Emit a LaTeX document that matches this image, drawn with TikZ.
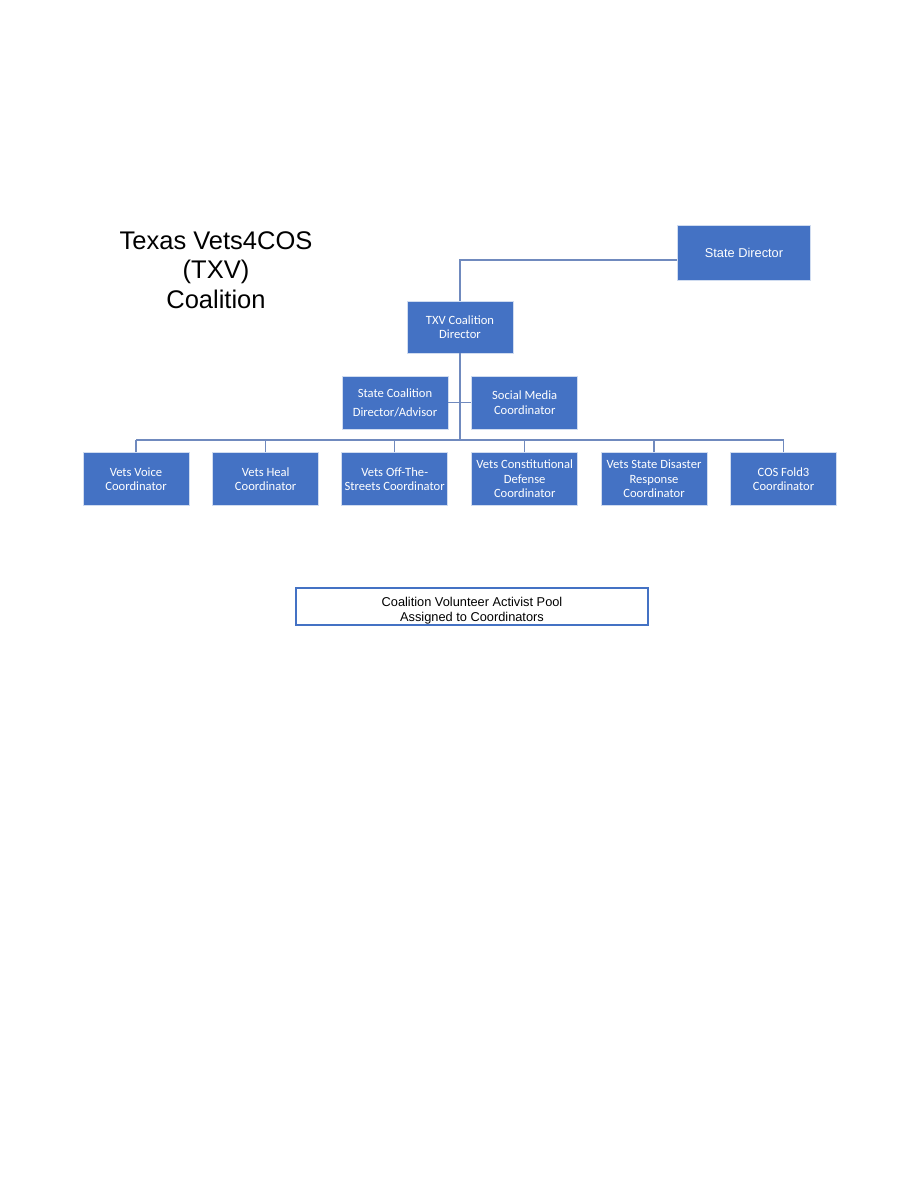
\documentclass[tikz,border=0pt]{standalone}
\usepackage{fontspec}
\newfontfamily\arialf{Liberation Sans}
\newfontfamily\carlitof{Carlito}
\definecolor{boxblue}{RGB}{68,114,196}
\definecolor{lineblue}{RGB}{112,138,190}
\tikzset{
  orgbox/.style={rectangle, fill=boxblue, draw=boxblue!25!white, line width=0.8pt,
    text=white, align=center, inner sep=0pt, minimum width=106pt, minimum height=53pt,
    font=\carlitof\fontsize{12.6}{14.5}\selectfont},
  link/.style={draw=lineblue, line width=1.3pt},
}
\begin{document}
\begin{tikzpicture}[x=1pt,y=1pt]
\useasboundingbox (0,0) rectangle (918,-1188);
\fill[white] (0,0) rectangle (918,-1188);

\node[font=\arialf\fontsize{25.5}{29.5}\selectfont, align=center] (title) at (216,-270)
  {Texas Vets4COS\\(TXV)\\Coalition};

\node[orgbox, minimum width=133pt, minimum height=55pt, font=\arialf\fontsize{12.8}{15}\selectfont] (sd) at (744,-252.5) {State Director};
\node[orgbox, minimum height=52pt] (txv) at (460,-327) {TXV Coalition\\Director};
\node[orgbox, font=\carlitof\fontsize{12.6}{19}\selectfont] (sca) at (395,-402.5) {State Coalition\\Director/Advisor};
\node[orgbox] (smc) at (524.7,-402.5) {Social Media\\Coordinator};

\node[orgbox] (v1) at (136,-479) {Vets Voice\\Coordinator};
\node[orgbox] (v2) at (265.7,-479) {Vets Heal\\Coordinator};
\node[orgbox] (v3) at (394.7,-479) {Vets Off-The-\\Streets Coordinator};
\node[orgbox] (v4) at (524.7,-479) {Vets Constitutional\\Defense\\Coordinator};
\node[orgbox] (v5) at (654,-479) {Vets State Disaster\\Response\\Coordinator};
\node[orgbox] (v6) at (783.5,-479) {COS Fold3\\Coordinator};

\node[rectangle, draw=boxblue, line width=1.2pt, fill=white, minimum width=352pt, minimum height=37pt,
  inner sep=0pt, align=center, font=\arialf\fontsize{12.8}{15}\selectfont] (pool) at (472,-606.5)
  {\rule{0pt}{17pt}Coalition Volunteer Activist Pool\\Assigned to Coordinators};

\coordinate (bus) at (460,-440);

\draw[link] (txv.north) |- ([yshift=-7.5pt]sd.west);
\draw[link] (txv.south) -- (bus);
\draw[link] (v1.north |- bus) -- (v6.north |- bus);
\foreach \n in {v1,v2,v3,v4,v5,v6} {\draw[link] (\n.north) -- (\n.north |- bus);}
\draw[link, line width=0.9pt] (sca.east) -- (smc.west);
\end{tikzpicture}
\end{document}
